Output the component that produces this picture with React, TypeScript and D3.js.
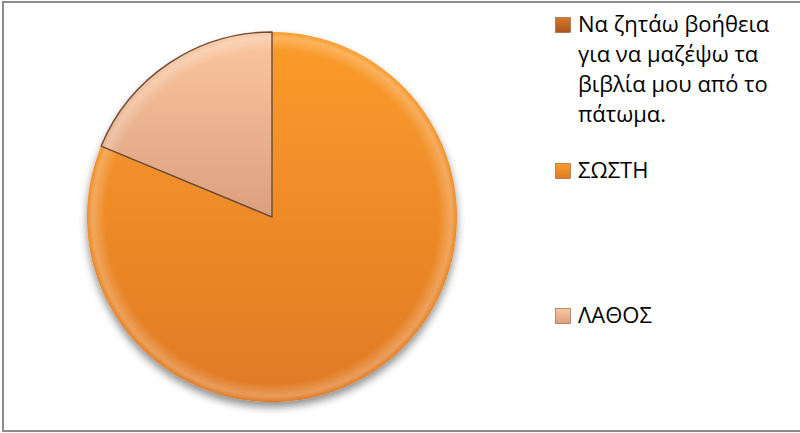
import React from "react";
import * as d3 from "d3";

const categories = [
  "Να ζητάω βοήθεια για να μαζέψω τα βιβλία μου από το πάτωμα.",
  "ΣΩΣΤΗ",
  "ΛΑΘΟΣ",
];
const values = [0, 13, 3];
const legendLines = [
  ["Να ζητάω βοήθεια", "για να μαζέψω τα", "βιβλία μου από το", "πάτωμα."],
  ["ΣΩΣΤΗ"],
  ["ΛΑΘΟΣ"],
];
const legendBaselines = [32, 178, 323];

const W = 800;
const H = 433;
const cx = 272;
const cy = 217;
const R = 185;

const grads = [
  { id: "g0", top: "#d9782a", bottom: "#a9561a" },
  { id: "g1", top: "#fb9c2c", bottom: "#e07a25" },
  { id: "g2", top: "#fbc7a0", bottom: "#dc9f7e" },
];

export default function App() {
  const pie = d3
    .pie<number>()
    .sort(null)
    .startAngle(0)
    .endAngle(2 * Math.PI)
    .value((d) => d);
  const arcs = pie(values);
  const arc = d3.arc<d3.PieArcDatum<number>>().innerRadius(0).outerRadius(R);
  const fontFamily = "'Open Sans', 'Noto Sans', sans-serif";

  return (
    <svg
      width={W}
      height={H}
      style={{ position: "fixed", left: 0, top: 0, background: "#fff" }}
    >
      <defs>
        {grads.map((g) => (
          <linearGradient key={g.id} id={g.id} x1="0" y1="0" x2="0" y2="1">
            <stop offset="0%" stopColor={g.top} />
            <stop offset="100%" stopColor={g.bottom} />
          </linearGradient>
        ))}
        <radialGradient id="rim" cx="0.5" cy="0.5" r="0.5">
          <stop offset="0.9" stopColor="#fff" stopOpacity="0" />
          <stop offset="0.97" stopColor="#fff" stopOpacity="0.25" />
          <stop offset="1" stopColor="#fff" stopOpacity="0" />
        </radialGradient>
        <filter id="shadow" x="-10%" y="-10%" width="120%" height="125%">
          <feGaussianBlur in="SourceAlpha" stdDeviation="4" />
          <feOffset dx="0" dy="5" result="b" />
          <feComponentTransfer>
            <feFuncA type="linear" slope="0.45" />
          </feComponentTransfer>
          <feMerge>
            <feMergeNode />
            <feMergeNode in="SourceGraphic" />
          </feMerge>
        </filter>
      </defs>

      <rect x={3} y={2} width={W + 20} height={H - 4} fill="#fff" stroke="#8c8c8c" strokeWidth={2} />

      <g transform={`translate(${cx},${cy})`}>
        <g filter="url(#shadow)">
          {arcs.map((a, i) =>
            a.endAngle - a.startAngle > 0 ? (
              <path key={i} d={arc(a) || ""} fill={`url(#g${i})`} />
            ) : null
          )}
        </g>
        <circle r={R} fill="url(#rim)" />
        {arcs.map((a, i) =>
          a.endAngle - a.startAngle > 0 && i === 2 ? (
            <path
              key={"s" + i}
              d={arc(a) || ""}
              fill="none"
              stroke="#6b4a38"
              strokeWidth={1.4}
              strokeLinejoin="round"
            />
          ) : null
        )}
      </g>

      {categories.map((c, i) => (
        <g key={c}>
          <rect
            x={555.5}
            y={legendBaselines[i] - 14.5}
            width={15}
            height={15}
            fill={`url(#g${i})`}
            stroke="#8a5a30"
            strokeWidth={0.6}
          />
          <text
            x={578}
            y={legendBaselines[i]}
            fontFamily={fontFamily}
            fontSize={22}
            fill="#000"
          >
            {legendLines[i].map((l, j) => (
              <tspan key={j} x={578} dy={j === 0 ? 0 : 30}>
                {l}
              </tspan>
            ))}
          </text>
        </g>
      ))}
    </svg>
  );
}
